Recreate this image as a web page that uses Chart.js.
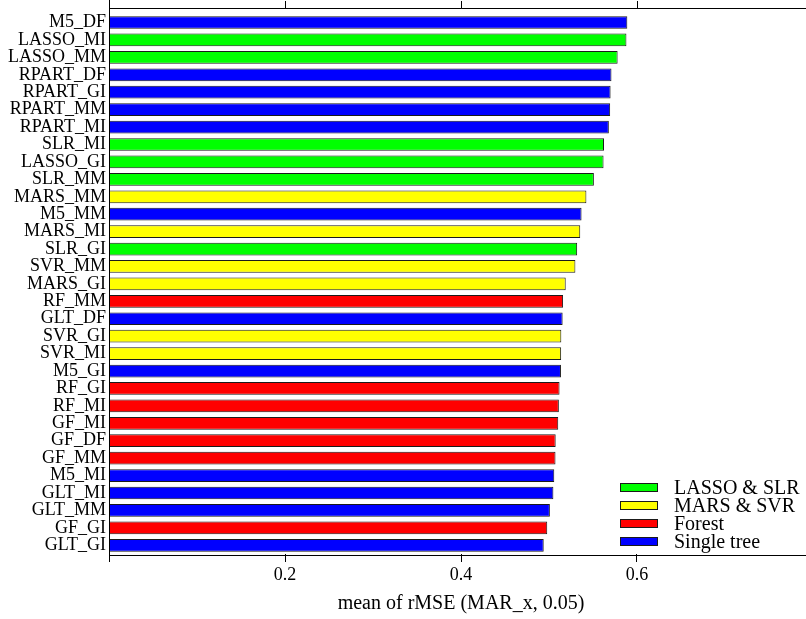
<!DOCTYPE html>
<html>
<head>
<meta charset="utf-8">
<script src="https://cdn.jsdelivr.net/npm/chart.js@4/dist/chart.umd.min.js"></script>
<style>
  html, body { margin: 0; padding: 0; background: #fff; overflow: hidden; width: 806px; height: 619px; }
  #wrap { width: 813px; height: 619px; }
  canvas { display: block; }
</style>
</head>
<body>
<div id="wrap"><canvas id="c" width="813" height="619"></canvas></div>
<script>
// Methods, ordered from largest to smallest mean rMSE
const categories = [
  'M5_DF', 'LASSO_MI', 'LASSO_MM', 'RPART_DF', 'RPART_GI', 'RPART_MM', 'RPART_MI',
  'SLR_MI', 'LASSO_GI', 'SLR_MM', 'MARS_MM', 'M5_MM', 'MARS_MI', 'SLR_GI', 'SVR_MM',
  'MARS_GI', 'RF_MM', 'GLT_DF', 'SVR_GI', 'SVR_MI', 'M5_GI', 'RF_GI', 'RF_MI', 'GF_MI',
  'GF_DF', 'GF_MM', 'M5_MI', 'GLT_MI', 'GLT_MM', 'GF_GI', 'GLT_GI'
];

const values = [
  0.589, 0.588, 0.578, 0.571, 0.570, 0.5695, 0.568,
  0.5625, 0.562, 0.551, 0.5425, 0.537, 0.5355, 0.532, 0.530,
  0.519, 0.516, 0.5155, 0.514, 0.5138, 0.5136, 0.512, 0.5112, 0.5105,
  0.5076, 0.5074, 0.506, 0.505, 0.501, 0.498, 0.494
];

// Model family of each method
const groups = [
  'Single tree', 'LASSO & SLR', 'LASSO & SLR', 'Single tree', 'Single tree', 'Single tree', 'Single tree',
  'LASSO & SLR', 'LASSO & SLR', 'LASSO & SLR', 'MARS & SVR', 'Single tree', 'MARS & SVR', 'LASSO & SLR', 'MARS & SVR',
  'MARS & SVR', 'Forest', 'Single tree', 'MARS & SVR', 'MARS & SVR', 'Single tree', 'Forest', 'Forest', 'Forest',
  'Forest', 'Forest', 'Single tree', 'Single tree', 'Single tree', 'Forest', 'Single tree'
];

const legendLabels = ['LASSO & SLR', 'MARS & SVR', 'Forest', 'Single tree'];
const legendColors = ['#00ff00', '#ffff00', '#ff0000', '#0000ff'];

const xTicks = [0.2, 0.4, 0.6];
const axisTitle = 'mean of rMSE (MAR_x, 0.05)';

const FONT = '"Liberation Serif", "Times New Roman", serif';
const colorOf = g => legendColors[legendLabels.indexOf(g)];

// Axis frame (top / bottom / left lines, top ticks) and the inset legend
const framePlugin = {
  id: 'frame',
  afterDraw(chart) {
    const ctx = chart.ctx;
    const a = chart.chartArea;
    const xs = chart.scales.x;
    ctx.save();
    ctx.strokeStyle = '#000';
    ctx.lineWidth = 1;
    const topY = 8.5, botY = 555.5, leftX = 109.5;
    ctx.beginPath();
    ctx.moveTo(leftX, topY); ctx.lineTo(a.right, topY);
    ctx.moveTo(leftX, botY); ctx.lineTo(a.right, botY);
    ctx.moveTo(leftX, 0); ctx.lineTo(leftX, 562);
    xTicks.forEach(v => {
      const px = Math.round(xs.getPixelForValue(v)) + 0.5;
      ctx.moveTo(px, topY); ctx.lineTo(px, 1);
    });
    ctx.stroke();

    // legend
    const boxX = 620, boxW = 38, boxH = 9, textX = 674;
    const rowY = [487.5, 505.5, 523.5, 541.5];
    ctx.font = '20px ' + FONT;
    ctx.textBaseline = 'middle';
    ctx.textAlign = 'left';
    legendLabels.forEach((lab, i) => {
      const y = rowY[i];
      ctx.fillStyle = legendColors[i];
      ctx.fillRect(boxX, y - boxH / 2, boxW, boxH);
      ctx.strokeStyle = '#1a1a1a';
      ctx.strokeRect(boxX + 0.5, y - boxH / 2 + 0.5, boxW - 1, boxH - 1);
      ctx.fillStyle = '#000';
      ctx.fillText(lab, textX, y + 1);
    });
    ctx.restore();
  }
};

new Chart(document.getElementById('c'), {
  type: 'bar',
  data: {
    labels: categories,
    datasets: [{
      data: values,
      backgroundColor: groups.map(colorOf),
      borderColor: '#1a1a1a',
      borderWidth: 1,
      borderSkipped: false,
      categoryPercentage: 1,
      barPercentage: 0.73
    }]
  },
  options: {
    indexAxis: 'y',
    responsive: false,
    devicePixelRatio: 1,
    animation: false,
    layout: { padding: { top: 10, right: 0, left: 0, bottom: 0 } },
    plugins: {
      legend: { display: false },
      tooltip: { enabled: false }
    },
    scales: {
      y: {
        type: 'category',
        offset: true,
        grid: { display: false, drawTicks: false },
        border: { display: false },
        ticks: {
          color: '#000',
          padding: 3,
          autoSkip: false,
          font: { family: FONT, size: 18 }
        },
        afterFit(s) { s.width = 109; }
      },
      x: {
        type: 'linear',
        min: 0,
        max: 0.8,
        position: 'bottom',
        afterBuildTicks(s) { s.ticks = xTicks.map(v => ({ value: v })); },
        grid: {
          display: true,
          drawOnChartArea: false,
          drawTicks: true,
          tickLength: 8,
          color: '#000',
          lineWidth: 1
        },
        border: { display: false },
        ticks: {
          color: '#000',
          padding: 2,
          maxRotation: 0,
          font: { family: FONT, size: 18, lineHeight: 1.2 },
          callback: v => String(v)
        },
        title: {
          display: true,
          text: axisTitle,
          color: '#000',
          padding: { top: 0, bottom: 3 },
          font: { family: FONT, size: 20, lineHeight: 1.2 }
        },
        afterFit(s) { s.height = 65; }
      }
    }
  },
  plugins: [framePlugin]
});
</script>
</body>
</html>
